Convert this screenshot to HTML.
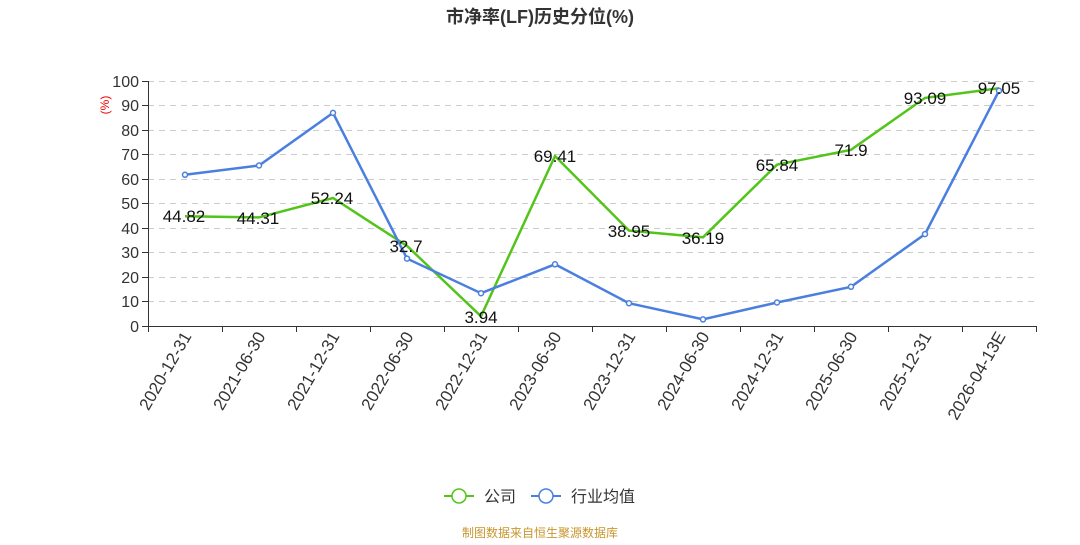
<!DOCTYPE html>
<html><head><meta charset="utf-8"><style>
body{margin:0;background:#fff;}
svg text{font-family:"Liberation Sans","Noto Sans CJK SC",sans-serif;}
</style></head><body>
<svg width="1080" height="540" xmlns="http://www.w3.org/2000/svg">
<text x="540" y="23" text-anchor="middle" font-size="18" font-weight="bold" fill="#333">市净率(LF)历史分位(%)</text>
<g stroke="#ccc" stroke-dasharray="6,5" stroke-width="1">
<line x1="148" x2="1036" y1="81.5" y2="81.5"/><line x1="148" x2="1036" y1="105.5" y2="105.5"/>
<line x1="148" x2="1036" y1="130.5" y2="130.5"/><line x1="148" x2="1036" y1="154.5" y2="154.5"/>
<line x1="148" x2="1036" y1="179.5" y2="179.5"/><line x1="148" x2="1036" y1="203.5" y2="203.5"/>
<line x1="148" x2="1036" y1="228.5" y2="228.5"/><line x1="148" x2="1036" y1="252.5" y2="252.5"/>
<line x1="148" x2="1036" y1="277.5" y2="277.5"/><line x1="148" x2="1036" y1="301.5" y2="301.5"/>
</g>
<g stroke="#333" stroke-width="1">
<line x1="148.5" x2="148.5" y1="81" y2="326"/>
<line x1="148" x2="1036" y1="326.5" y2="326.5"/>
<line x1="142" x2="148" y1="81.5" y2="81.5"/><line x1="142" x2="148" y1="105.5" y2="105.5"/>
<line x1="142" x2="148" y1="130.5" y2="130.5"/><line x1="142" x2="148" y1="154.5" y2="154.5"/>
<line x1="142" x2="148" y1="179.5" y2="179.5"/><line x1="142" x2="148" y1="203.5" y2="203.5"/>
<line x1="142" x2="148" y1="228.5" y2="228.5"/><line x1="142" x2="148" y1="252.5" y2="252.5"/>
<line x1="142" x2="148" y1="277.5" y2="277.5"/><line x1="142" x2="148" y1="301.5" y2="301.5"/>
<line x1="142" x2="148" y1="326.5" y2="326.5"/>
<line x1="148.5" x2="148.5" y1="326" y2="332"/><line x1="222.5" x2="222.5" y1="326" y2="332"/>
<line x1="296.5" x2="296.5" y1="326" y2="332"/><line x1="370.5" x2="370.5" y1="326" y2="332"/>
<line x1="444.5" x2="444.5" y1="326" y2="332"/><line x1="518.5" x2="518.5" y1="326" y2="332"/>
<line x1="592.5" x2="592.5" y1="326" y2="332"/><line x1="666.5" x2="666.5" y1="326" y2="332"/>
<line x1="740.5" x2="740.5" y1="326" y2="332"/><line x1="814.5" x2="814.5" y1="326" y2="332"/>
<line x1="888.5" x2="888.5" y1="326" y2="332"/><line x1="962.5" x2="962.5" y1="326" y2="332"/>
<line x1="1036.5" x2="1036.5" y1="326" y2="332"/>
</g>
<g font-size="16" fill="#333" text-anchor="end">
<text x="139" y="87">100</text><text x="139" y="111">90</text><text x="139" y="136">80</text>
<text x="139" y="160">70</text><text x="139" y="185">60</text><text x="139" y="209">50</text>
<text x="139" y="234">40</text><text x="139" y="258">30</text><text x="139" y="283">20</text>
<text x="139" y="307">10</text><text x="139" y="332">0</text>
</g>
<text transform="translate(109,105) rotate(-90)" text-anchor="middle" font-size="12" fill="#e00">(%)</text>
<g font-size="17" fill="#333" text-anchor="end">
<text transform="translate(192,336) rotate(-60)">2020-12-31</text>
<text transform="translate(266,336) rotate(-60)">2021-06-30</text>
<text transform="translate(340,336) rotate(-60)">2021-12-31</text>
<text transform="translate(414,336) rotate(-60)">2022-06-30</text>
<text transform="translate(488,336) rotate(-60)">2022-12-31</text>
<text transform="translate(562,336) rotate(-60)">2023-06-30</text>
<text transform="translate(636,336) rotate(-60)">2023-12-31</text>
<text transform="translate(710,336) rotate(-60)">2024-06-30</text>
<text transform="translate(784,336) rotate(-60)">2024-12-31</text>
<text transform="translate(858,336) rotate(-60)">2025-06-30</text>
<text transform="translate(932,336) rotate(-60)">2025-12-31</text>
<text transform="translate(1006,336) rotate(-60)">2026-04-13E</text>
</g>
<polyline fill="none" stroke="#52c41a" stroke-width="2.5" points="185,216.2 259,217.4 333,198 407,245.9 481,316.3 555,156 629,230.6 703,237.3 777,164.7 851,149.8 925,97.9 999,88.2"/>
<polyline fill="none" stroke="#4a7fe0" stroke-width="2.5" points="185,174.8 259,165.5 333,112.9 407,258.6 481,293.2 555,264.3 629,303.2 703,319.4 777,302.5 851,286.8 925,234.1 999,90.8"/>
<g fill="#fff" stroke="#4a7fe0" stroke-width="1.5">
<circle cx="185" cy="174.8" r="2.5"/><circle cx="259" cy="165.5" r="2.5"/><circle cx="333" cy="112.9" r="2.5"/>
<circle cx="407" cy="258.6" r="2.5"/><circle cx="481" cy="293.2" r="2.5"/><circle cx="555" cy="264.3" r="2.5"/>
<circle cx="629" cy="303.2" r="2.5"/><circle cx="703" cy="319.4" r="2.5"/><circle cx="777" cy="302.5" r="2.5"/>
<circle cx="851" cy="286.8" r="2.5"/><circle cx="925" cy="234.1" r="2.5"/><circle cx="999" cy="90.8" r="2.5"/>
</g>
<g font-size="17" fill="#111" text-anchor="middle">
<text x="184" y="222">44.82</text><text x="258" y="224">44.31</text><text x="332" y="204">52.24</text>
<text x="406" y="252">32.7</text><text x="481" y="323">3.94</text><text x="555" y="162">69.41</text>
<text x="629" y="237">38.95</text><text x="703" y="244">36.19</text><text x="777" y="171">65.84</text>
<text x="851" y="156">71.9</text><text x="925" y="104">93.09</text><text x="999" y="94">97.05</text>
</g>
<g>
<line x1="444" x2="474" y1="496" y2="496" stroke="#52c41a" stroke-width="2"/>
<circle cx="459" cy="496" r="7" fill="#fff" stroke="#52c41a" stroke-width="1.5"/>
<text x="484" y="502" font-size="16" fill="#333">公司</text>
<line x1="531" x2="561" y1="496" y2="496" stroke="#4a7fe0" stroke-width="2"/>
<circle cx="546" cy="496" r="7" fill="#fff" stroke="#4a7fe0" stroke-width="1.5"/>
<text x="571" y="502" font-size="16" fill="#333">行业均值</text>
</g>
<text x="540" y="537" text-anchor="middle" font-size="12" fill="#c8962e">制图数据来自恒生聚源数据库</text>
</svg>
</body></html>
